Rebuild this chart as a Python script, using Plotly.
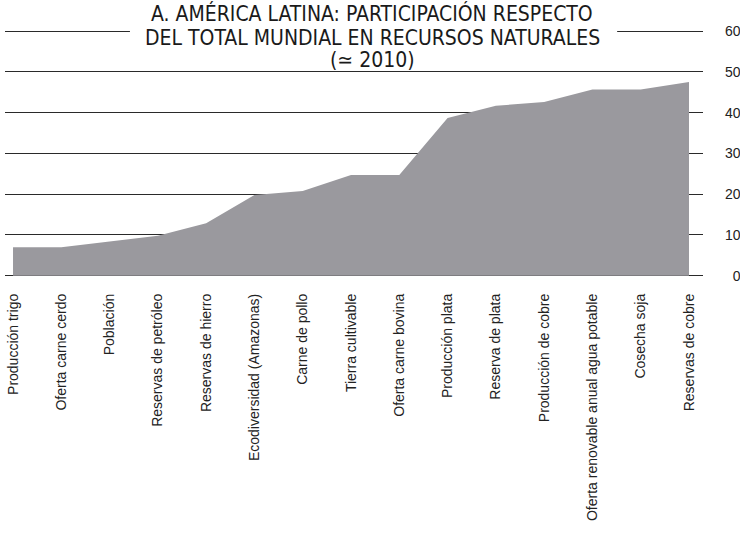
import plotly.graph_objects as go

categories = [
    "Producción trigo", "Oferta carne cerdo", "Población", "Reservas de petróleo",
    "Reservas de hierro", "Ecodiversidad (Amazonas)", "Carne de pollo",
    "Tierra cultivable", "Oferta carne bovina", "Producción plata",
    "Reserva de plata", "Producción de cobre", "Oferta renovable anual agua potable",
    "Cosecha soja", "Reservas de cobre",
]
values = [7, 7, 8.4, 9.8, 12.9, 19.8, 20.8, 24.7, 24.7, 38.7, 41.7, 42.6, 45.7, 45.7, 47.5]
y_ticks = [0, 10, 20, 30, 40, 50, 60]
y_ticktext = ["\u20070", "10", "20", "30", "40", "50", "60"]

title_lines = [
    "A. AMÉRICA LATINA: PARTICIPACIÓN RESPECTO",
    "DEL TOTAL MUNDIAL EN RECURSOS NATURALES",
    "(≃ 2010)",
]

FONT = "Liberation Sans, Arial, Helvetica, sans-serif"
TFONT = "DejaVu Sans Condensed, Liberation Sans Narrow, Arial Narrow, sans-serif"

fig = go.Figure()
fig.add_trace(go.Scatter(
    x=categories, y=values, mode="lines", fill="tozeroy",
    line=dict(width=0, color="#9a999e"), fillcolor="#9a999e",
    hoverinfo="x+y", showlegend=False,
))

fig.update_layout(
    width=740, height=537, autosize=False,
    margin=dict(l=5, r=37, t=27, b=260, autoexpand=False),
    paper_bgcolor="white", plot_bgcolor="white",
    font=dict(family=FONT, size=14, color="#222"),
    xaxis=dict(
        type="category", range=[-0.166, 14.29], tickangle=-90,
        showgrid=False, zeroline=False, showline=False, ticks="",
        tickfont=dict(family=FONT, size=14, color="#222"),
        ticklabelstandoff=13, automargin=False,
    ),
    yaxis=dict(
        side="right", range=[-0.3, 61], tickvals=y_ticks, ticktext=y_ticktext,
        showgrid=True, gridcolor="#2a2a2a", gridwidth=1.3,
        zeroline=False, showline=False, ticks="",
        tickfont=dict(family=FONT, size=14, color="#222"),
        ticklabelstandoff=21, automargin=False,
    ),
)

# white gap behind the title across the top gridline
fig.add_shape(type="rect", xref="paper", yref="paper",
              x0=0.179, x1=0.877, y0=0.964, y1=1.0,
              fillcolor="white", line=dict(width=0), layer="above")

xc = 0.526
ys = [1.052, 0.955, 0.869]
for txt, yy in zip(title_lines, ys):
    fig.add_annotation(
        text=txt, xref="paper", yref="paper", x=xc, y=yy,
        xanchor="center", yanchor="middle", showarrow=False,
        font=dict(family=TFONT, size=21, color="#1a1a1a"),
    )

fig.write_html("out.html", config={"displayModeBar": False},
               post_script="document.body.style.margin='0';")
